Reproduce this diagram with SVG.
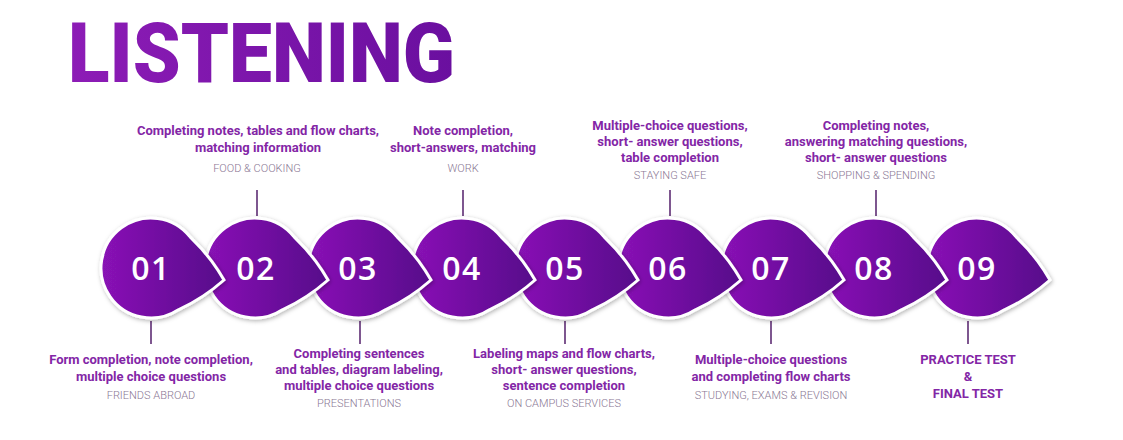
<svg xmlns="http://www.w3.org/2000/svg" width="1123" height="440" viewBox="0 0 1123 440">
<style>
.t{font-family:Roboto,"Liberation Sans",sans-serif;font-weight:700;font-size:13px;fill:#8326a6;text-anchor:middle}
.s{font-family:Roboto,"Liberation Sans",sans-serif;font-weight:300;font-size:11px;fill:#8a7894;text-anchor:middle}
.n{font-family:"Open Sans","Liberation Sans",sans-serif;font-weight:600;font-size:32px;fill:#fff;text-anchor:middle;letter-spacing:1.5px}
.c{stroke:#5e2c74;stroke-width:1.6;fill:none}
.drop{fill:url(#g);stroke:#fff;stroke-width:3;filter:url(#sh)}
</style>
<defs>
<linearGradient id="g" x1="0" y1="0" x2="1" y2="0">
<stop offset="0" stop-color="#8a12b6"/>
<stop offset="1" stop-color="#560a8a"/>
</linearGradient>
<linearGradient id="tg" x1="0" y1="0" x2="1" y2="0">
<stop offset="0" stop-color="#8d1cb6"/>
<stop offset="1" stop-color="#6a0f9f"/>
</linearGradient>
<filter id="sh" x="-20%" y="-20%" width="140%" height="140%">
<feDropShadow dx="1" dy="1.5" stdDeviation="2" flood-color="#000" flood-opacity="0.3"/>
</filter>
<path id="d" d="M 39.32,-30.88 Q 59.3,-11.9 73,12 Q 52.4,30.2 27.38,41.84 A 50 50 0 1 1 39.32,-30.88 Z"/>
</defs>
<rect width="1123" height="440" fill="#fff"/>
<text x="68" y="82" font-family="Roboto,'Liberation Sans',sans-serif" font-weight="900" font-size="84" fill="url(#tg)" textLength="387" lengthAdjust="spacingAndGlyphs">LISTENING</text>

<g id="connectors">
<line class="c" x1="151" y1="321" x2="151" y2="344"/>
<line class="c" x1="257" y1="190" x2="257" y2="216"/>
<line class="c" x1="360" y1="321" x2="360" y2="344"/>
<line class="c" x1="463" y1="190" x2="463" y2="216"/>
<line class="c" x1="565" y1="321" x2="565" y2="344"/>
<line class="c" x1="670" y1="190" x2="670" y2="216"/>
<line class="c" x1="771" y1="321" x2="771" y2="344"/>
<line class="c" x1="876" y1="190" x2="876" y2="216"/>
<line class="c" x1="968" y1="321" x2="968" y2="344"/>
</g>

<g id="node09"><use href="#d" class="drop" transform="translate(977,268)"/><text class="n" x="977" y="280">09</text></g>
<g id="node08"><use href="#d" class="drop" transform="translate(874,268)"/><text class="n" x="874" y="280">08</text></g>
<g id="node07"><use href="#d" class="drop" transform="translate(771,268)"/><text class="n" x="771" y="280">07</text></g>
<g id="node06"><use href="#d" class="drop" transform="translate(668,268)"/><text class="n" x="668" y="280">06</text></g>
<g id="node05"><use href="#d" class="drop" transform="translate(565,268)"/><text class="n" x="565" y="280">05</text></g>
<g id="node04"><use href="#d" class="drop" transform="translate(462,268)"/><text class="n" x="462" y="280">04</text></g>
<g id="node03"><use href="#d" class="drop" transform="translate(358,268)"/><text class="n" x="358" y="280">03</text></g>
<g id="node02"><use href="#d" class="drop" transform="translate(255,268)"/><text class="n" x="256" y="280">02</text></g>
<g id="node01"><use href="#d" class="drop" transform="translate(151,268)"/><text class="n" x="151" y="280">01</text></g>

<g id="label01">
<text class="t" x="151" y="364">Form completion, note completion,</text>
<text class="t" x="151" y="381">multiple choice questions</text>
<text class="s" x="151" y="399">FRIENDS ABROAD</text>
</g>
<g id="label02">
<text class="t" x="258" y="135">Completing notes, tables and flow charts,</text>
<text class="t" x="258" y="152">matching information</text>
<text class="s" x="257" y="172">FOOD &amp; COOKING</text>
</g>
<g id="label03">
<text class="t" x="359" y="358">Completing sentences</text>
<text class="t" x="359" y="374">and tables, diagram labeling,</text>
<text class="t" x="359" y="390">multiple choice questions</text>
<text class="s" x="359" y="407">PRESENTATIONS</text>
</g>
<g id="label04">
<text class="t" x="463" y="135">Note completion,</text>
<text class="t" x="463" y="152">short-answers, matching</text>
<text class="s" x="463" y="172">WORK</text>
</g>
<g id="label05">
<text class="t" x="564" y="358">Labeling maps and flow charts,</text>
<text class="t" x="564" y="374">short- answer questions,</text>
<text class="t" x="564" y="390">sentence completion</text>
<text class="s" x="564" y="407">ON CAMPUS SERVICES</text>
</g>
<g id="label06">
<text class="t" x="670" y="130">Multiple-choice questions,</text>
<text class="t" x="670" y="146">short- answer questions,</text>
<text class="t" x="670" y="162">table completion</text>
<text class="s" x="670" y="179">STAYING SAFE</text>
</g>
<g id="label07">
<text class="t" x="771" y="364">Multiple-choice questions</text>
<text class="t" x="771" y="381">and completing flow charts</text>
<text class="s" x="771" y="399">STUDYING, EXAMS &amp; REVISION</text>
</g>
<g id="label08">
<text class="t" x="876" y="130">Completing notes,</text>
<text class="t" x="876" y="146">answering matching questions,</text>
<text class="t" x="876" y="162">short- answer questions</text>
<text class="s" x="876" y="179">SHOPPING &amp; SPENDING</text>
</g>
<g id="label09">
<text class="t" x="968" y="364">PRACTICE TEST</text>
<text class="t" x="968" y="381">&amp;</text>
<text class="t" x="968" y="398">FINAL TEST</text>
</g>
</svg>
